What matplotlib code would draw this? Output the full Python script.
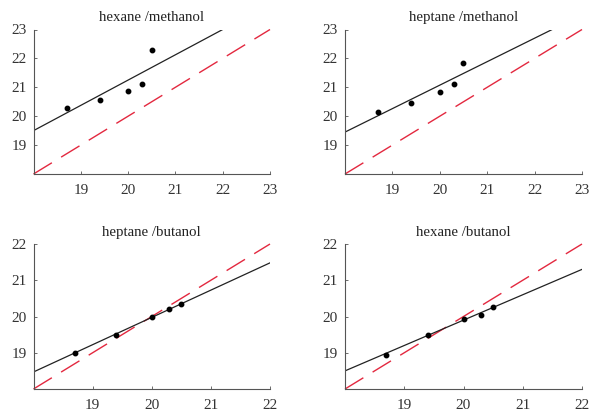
import matplotlib
matplotlib.use("Agg")
import matplotlib.pyplot as plt

plt.rcParams['font.family'] = ['Liberation Serif', 'DejaVu Serif']

titles = ["hexane /methanol", "heptane /methanol", "heptane /butanol", "hexane /butanol"]

# measured x values are the same in every panel
x_pts = [18.7, 19.4, 20.0, 20.3, 20.5]
y_hex_meth = [20.30, 20.57, 20.87, 21.13, 22.30]
y_hep_meth = [20.15, 20.45, 20.83, 21.12, 21.85]
y_hep_but = [19.00, 19.50, 20.00, 20.20, 20.35]
y_hex_but = [18.93, 19.50, 19.93, 20.03, 20.27]
all_y = [y_hex_meth, y_hep_meth, y_hep_but, y_hex_but]

# fitted lines: (x start, x end) and (y start, y end)
fit_x = [[18, 22.0], [18, 22.37], [18, 22], [18, 22]]
fit_y = [[19.5, 23.0], [19.45, 23.0], [18.47, 21.48], [18.5, 21.3]]

lims = [(18, 23), (18, 23), (18, 22), (18, 22)]
ticks = [[19, 20, 21, 22, 23], [19, 20, 21, 22, 23], [19, 20, 21, 22], [19, 20, 21, 22]]

fig = plt.figure(figsize=(5.98, 4.12), dpi=100)
W, H = 598, 412
boxes = [(33.5, 29.5, 270, 174), (345, 29.5, 582, 174),
         (33.5, 244, 270, 389), (345, 244, 582, 389)]

red = '#e3283f'
for i in range(4):
    l, t, r, b = boxes[i]
    ax = fig.add_axes([l / W, 1 - b / H, (r - l) / W, (b - t) / H])
    lo, hi = lims[i]
    ax.plot([lo, hi], [lo, hi], color=red, lw=1.0, dashes=(15.5, 7.8), clip_on=False)
    ax.plot(fit_x[i], fit_y[i], color='#222222', lw=0.9)
    ax.plot(x_pts, all_y[i], 'o', color='black', ms=3.2)
    ax.set_xlim(lo, hi)
    ax.set_ylim(lo, hi)
    ax.set_xticks(ticks[i])
    ax.set_yticks(ticks[i])
    ax.tick_params(direction='in', length=2.5, width=0.6, labelsize=11,
                   colors='#555555', labelcolor='#333333')
    ax.tick_params(axis='x', pad=7)
    ax.tick_params(axis='y', pad=5)
    for s in ['top', 'right']:
        ax.spines[s].set_visible(False)
    for s in ['left', 'bottom']:
        ax.spines[s].set_color('#555555')
        ax.spines[s].set_linewidth(0.8)
    ax.set_title(titles[i], fontsize=10.7, color='#222222', pad=6)

fig.savefig("out.png", dpi=100)
